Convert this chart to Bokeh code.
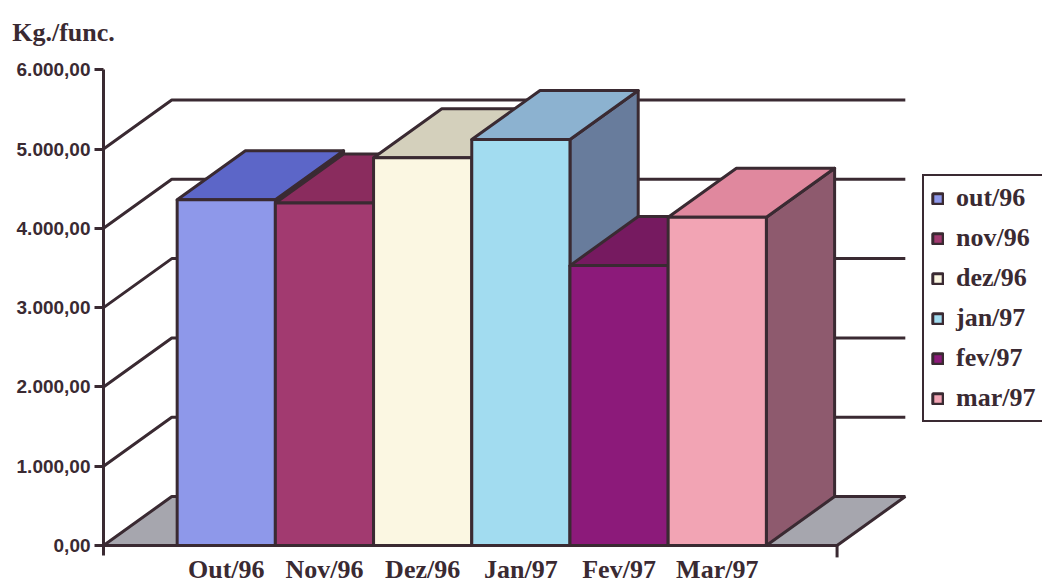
from bokeh.plotting import figure
from bokeh.models import (LinearAxis, FixedTicker, Legend, LegendItem, Label, Range1d)
from bokeh.embed import file_html
from bokeh.resources import INLINE

# ---- data ----
months = ["Out/96", "Nov/96", "Dez/96", "Jan/97", "Fev/97", "Mar/97"]
legend_labels = ["out/96", "nov/96", "dez/96", "jan/97", "fev/97", "mar/97"]
values = [4360, 4320, 4890, 5120, 3530, 4140]
y_ticks = [0, 1000, 2000, 3000, 4000, 5000, 6000]
wall_lines = [1000, 2000, 3000, 4000, 5000]
unit_label = "Kg./func."

# ---- styling ----
front_colors = ["#8e98ea", "#a23a70", "#fbf7e2", "#a2dcf0", "#8c1a7a", "#f2a4b4"]
top_colors = ["#5c66c8", "#8a2c5e", "#d4d0bc", "#8cb2d0", "#761a60", "#e0889e"]
side_colors = ["#4a4e9a", "#6e2046", "#a8a490", "#687c9c", "#5a1248", "#8e5a6e"]
ink = "#3a2a32"
floor_color = "#a6a6ae"
lw = 3

# 3-D projection offsets (x in bar units, y in value units)
DX = 0.695
DY = 618
BAR0 = 0.75          # left edge of the first bar
FLOOR_END = 7.47     # right edge of the floor

p = figure(width=1042, height=583, output_backend="svg", toolbar_location=None,
           x_range=Range1d(-1.049, 9.562), y_range=Range1d(-479, 6873),
           min_border=0, x_axis_type=None, y_axis_type=None)
p.grid.visible = False
p.outline_line_color = None
p.background_fill_color = "white"

# floor
p.patch([0, FLOOR_END, FLOOR_END + DX, DX], [0, 0, DY, DY],
        fill_color=floor_color, line_color=ink, line_width=lw)

# left wall diagonals and back wall lines
for t in wall_lines:
    p.line([0, DX, FLOOR_END + DX], [t, t + DY, t + DY], line_color=ink, line_width=lw)

# end tick on the floor
p.segment(x0=[FLOOR_END], y0=[0], x1=[FLOOR_END], y1=[-150], line_color=ink, line_width=lw)

# bars, drawn left to right so each front hides the previous side
legend_items = []
for i, v in enumerate(values):
    x0 = BAR0 + i
    x1 = x0 + 1
    p.patch([x1, x1 + DX, x1 + DX, x1], [0, DY, v + DY, v],
            fill_color=side_colors[i], line_color=ink, line_width=lw, line_join="round")
    p.patch([x0, x1, x1 + DX, x0 + DX], [v, v, v + DY, v + DY],
            fill_color=top_colors[i], line_color=ink, line_width=lw, line_join="round")
    r = p.quad(left=[x0], right=[x1], bottom=[0], top=[v],
               fill_color=front_colors[i], line_color=ink, line_width=lw)
    legend_items.append(LegendItem(label=legend_labels[i], renderers=[r]))

# y axis
yaxis = LinearAxis(fixed_location=0)
yaxis.ticker = FixedTicker(ticks=y_ticks)
yaxis.bounds = (-130, 6000)


def fmt_br(v):
    s = f"{v:,.2f}"
    return s.replace(",", "X").replace(".", ",").replace("X", ".")


yaxis.major_label_overrides = {t: fmt_br(t) for t in y_ticks}
yaxis.axis_line_color = ink
yaxis.axis_line_width = lw
yaxis.major_tick_line_color = ink
yaxis.major_tick_line_width = lw
yaxis.major_tick_out = 9
yaxis.major_tick_in = 0
yaxis.minor_tick_line_color = None
yaxis.major_label_standoff = 4
yaxis.major_label_text_font = "Liberation Sans"
yaxis.major_label_text_font_style = "bold"
yaxis.major_label_text_font_size = "19px"
yaxis.major_label_text_color = ink
p.add_layout(yaxis, "left")

# x axis with month labels under the bars
xaxis = LinearAxis(fixed_location=0)
centers = [BAR0 + i + 0.5 for i in range(len(months))]
xaxis.ticker = FixedTicker(ticks=centers)
xaxis.major_label_overrides = {c: m for c, m in zip(centers, months)}
xaxis.axis_line_color = None
xaxis.major_tick_line_color = None
xaxis.minor_tick_line_color = None
xaxis.major_tick_out = 0
xaxis.major_tick_in = 0
xaxis.major_label_standoff = 9
xaxis.major_label_text_font = "Liberation Serif"
xaxis.major_label_text_font_style = "bold"
xaxis.major_label_text_font_size = "26px"
xaxis.major_label_text_color = ink
p.add_layout(xaxis, "below")

# unit label
p.add_layout(Label(x=-0.93, y=6469, text=unit_label, text_font="Liberation Serif",
                   text_font_style="bold", text_font_size="26px", text_color=ink,
                   text_baseline="alphabetic"))

legend = Legend(items=legend_items, location=(922, 161),
                label_text_font="Liberation Serif", label_text_font_style="bold",
                label_text_font_size="26px", label_text_color=ink,
                glyph_width=13, glyph_height=13, label_height=30, spacing=10,
                padding=7, margin=0, label_standoff=12,
                border_line_color=ink, border_line_width=2, border_line_alpha=1,
                background_fill_color="white", background_fill_alpha=1)
p.add_layout(legend)

open("out.html", "w").write(file_html(p, INLINE))
